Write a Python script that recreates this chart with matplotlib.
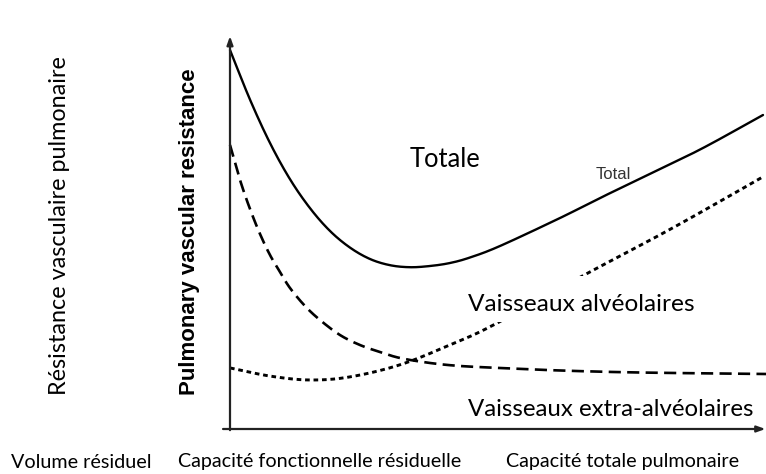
import numpy as np
import matplotlib
matplotlib.use("Agg")
import matplotlib.pyplot as plt
from matplotlib.patches import Rectangle

# ---- data (lung volume 0-100, resistance 0-100) ----
total_x = [0, 3.73, 7.46, 11.19, 14.93, 18.66, 22.39, 26.12, 29.85, 33.58, 37.31, 41.04, 44.78,
           50.37, 61.57, 69.03, 78.36, 88.25, 99.44]
total_y = [97.43, 84.68, 73.52, 64.22, 56.76, 50.90, 46.63, 43.70, 42.11, 41.59, 41.90, 42.67, 44.09,
           47.04, 54.24, 59.38, 65.55, 72.24, 80.72]

extra_x = [0, 1.87, 3.73, 5.60, 7.46, 9.33, 11.19, 13.99, 16.79, 20.52, 24.25, 27.99, 31.72, 37.31,
           42.91, 50.37, 61.57, 76.49, 100]
extra_y = [73.01, 64.01, 56.56, 50.13, 44.73, 40.36, 36.25, 31.62, 28.02, 24.16, 21.59, 19.79, 18.25,
           16.97, 16.20, 15.68, 15.04, 14.52, 14.14]

alv_x = [0, 7.5, 14.9, 22.4, 31.7, 41.0, 49.1, 65.7, 80.2, 89.6, 99.4]
alv_y = [15.7, 13.6, 12.6, 13.4, 16.5, 21.6, 26.7, 39.3, 49.9, 57.1, 64.8]

labels_inside = ["Totale", "Total", "Vaisseaux alvéolaires", "Vaisseaux extra-alvéolaires"]
x_labels = ["Volume résiduel", "Capacité fonctionnelle résiduelle", "Capacité totale pulmonaire"]
y_label_fr = "Résistance vasculaire pulmonaire"
y_label_en = "Pulmonary vascular resistance"


def smooth(xs, ys, n=30):
    """Catmull-Rom rendering of the read points."""
    p = np.column_stack([xs, ys]).astype(float)
    p = np.vstack([2 * p[0] - p[1], p, 2 * p[-1] - p[-2]])
    out = []
    t = np.linspace(0, 1, n, endpoint=False)[:, None]
    for i in range(1, len(p) - 2):
        p0, p1, p2, p3 = p[i - 1], p[i], p[i + 1], p[i + 2]
        seg = 0.5 * ((2 * p1) + (-p0 + p2) * t + (2 * p0 - 5 * p1 + 4 * p2 - p3) * t ** 2
                     + (-p0 + 3 * p1 - 3 * p2 + p3) * t ** 3)
        out.append(seg)
    out.append(p[-2][None, :])
    out = np.vstack(out)
    return out[:, 0], out[:, 1]


W, H = 766, 474
fig = plt.figure(figsize=(W / 100, H / 100), dpi=100)
fig.patch.set_facecolor("white")
ax = fig.add_axes([230 / W, (H - 429) / H, 536 / W, 389 / H])
ax.set_xlim(0, 100)
ax.set_ylim(0, 100)
ax.axis("off")

# curves
sx, sy = smooth(total_x, total_y)
ax.plot(sx, sy, color="black", lw=1.7, solid_capstyle="round", zorder=3, clip_on=False)

sx, sy = smooth(extra_x, extra_y)
ax.plot(sx, sy, color="black", lw=1.9, dashes=(4.6, 2.4), zorder=3, clip_on=False)

sx, sy = smooth(alv_x, alv_y)
ax.plot(sx, sy, color="black", lw=2.1, dashes=(1.6, 1.3), zorder=3, clip_on=False)

# white box masking part of the dotted curve behind the label
ax.add_patch(Rectangle((49.4, 27.5), 51, 11.8, facecolor="white", edgecolor="none", zorder=4,
                       clip_on=False))

# axes with arrows
arrow_kw = dict(arrowstyle="-|>,head_length=0.5,head_width=0.18", color="#222222", lw=1.6,
                shrinkA=0, shrinkB=0)
ax.annotate("", xy=(0, 101), xytext=(0, -0.3), arrowprops=arrow_kw, annotation_clip=False, zorder=5)
ax.annotate("", xy=(99.9, 0), xytext=(-1.3, 0), arrowprops=arrow_kw, annotation_clip=False, zorder=5)

fontfam = ["Lato", "DejaVu Sans"]
ax.text(40.1, 69.2, labels_inside[0], fontsize=18.4, family=fontfam, ha="center", va="center", zorder=6)
ax.text(71.5, 65.3, labels_inside[1], fontsize=12, family=["Liberation Sans"], color="#333333",
        ha="center", va="center", zorder=6)
ax.text(44.4, 32.1, labels_inside[2], fontsize=17.6, family=fontfam, ha="left", va="center", zorder=6)
ax.text(44.4, 4.9, labels_inside[3], fontsize=17.3, family=fontfam, ha="left", va="center", zorder=6)

ypix = 462
fig.text(81 / W, 1 - ypix / H, x_labels[0], fontsize=14.2, family=fontfam, ha="center", va="center")
fig.text(320 / W, 1 - ypix / H, x_labels[1], fontsize=14.2, family=fontfam, ha="center", va="center")
fig.text(623 / W, 1 - ypix / H, x_labels[2], fontsize=14.2, family=fontfam, ha="center", va="center")

fig.text(60 / W, 1 - 226 / H, y_label_fr, fontsize=16.8, family=fontfam, rotation=90,
         ha="center", va="center")
fig.text(190 / W, 1 - 232 / H, y_label_en, fontsize=16, family=["Liberation Sans"], weight="bold",
         rotation=90, ha="center", va="center")

fig.savefig("out.png", dpi=100, facecolor="white")
